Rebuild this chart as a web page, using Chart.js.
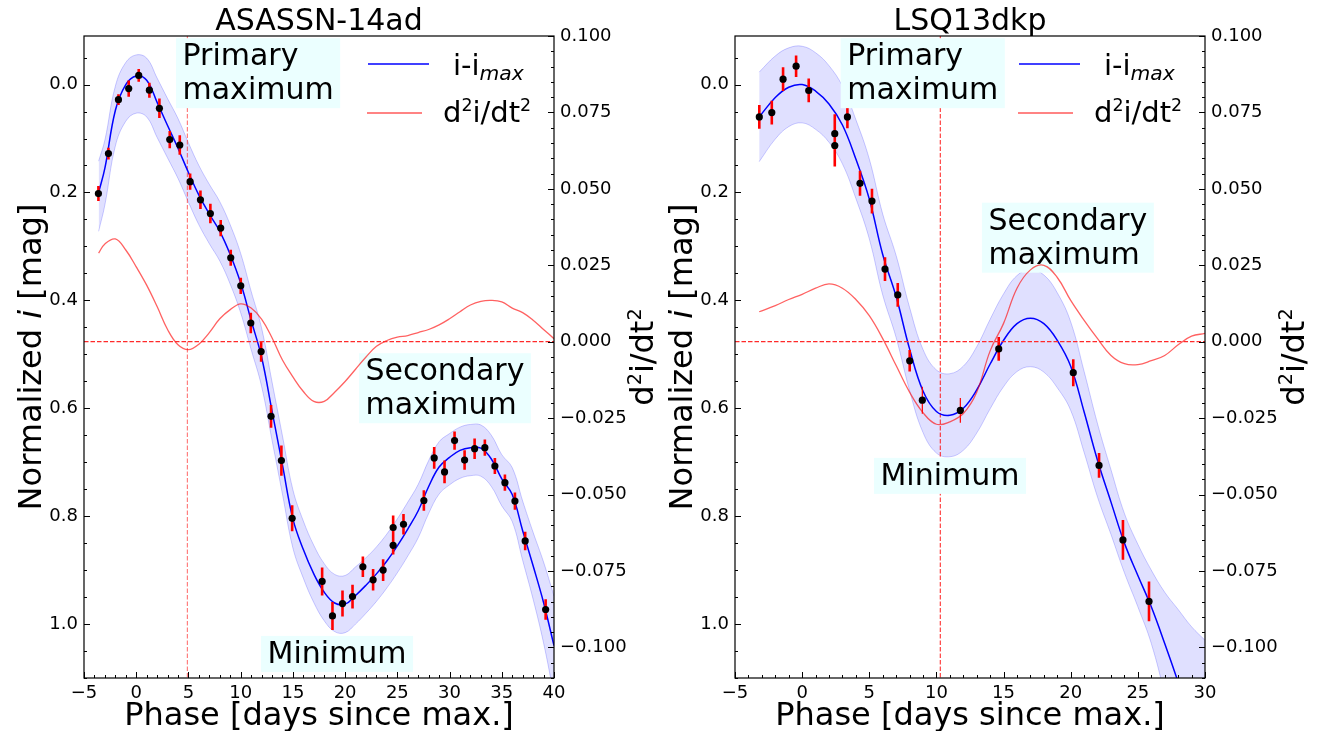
<!DOCTYPE html>
<html>
<head>
<meta charset="utf-8">
<script src="https://cdn.jsdelivr.net/npm/chart.js@4.4.1/dist/chart.umd.min.js"></script>
<style>
  body { margin: 0; background: #fff; width: 1317px; height: 731px; overflow: hidden; position: relative; }
  canvas { position: absolute; top: 0; }
</style>
</head>
<body>
<canvas id="left" width="660" height="731" style="left:0"></canvas>
<canvas id="right" width="657" height="731" style="left:660px"></canvas>
<script>
// ---- ASASSN-14ad ----
const leftPhase = [-3.6, -3, -2, -1, 0, 1, 2, 3, 4, 5, 6, 7, 8, 9, 10, 11, 12, 13, 14, 15, 16, 17, 18, 19, 20,
    21, 22, 23, 24, 25, 26, 27, 28, 29, 30, 31, 32, 33, 34, 35, 36, 37, 38, 39, 40];
const leftFit = [0.200, 0.155, 0.048, 0.000, -0.016, -0.008, 0.033, 0.076, 0.118, 0.163, 0.205, 0.240, 0.272, 0.315,
    0.368, 0.437, 0.505, 0.605, 0.705, 0.805, 0.862, 0.907, 0.941, 0.961, 0.963, 0.947, 0.928, 0.907, 0.883, 0.855,
    0.824, 0.790, 0.745, 0.709, 0.691, 0.678, 0.673, 0.674, 0.694, 0.731, 0.760, 0.827, 0.892, 0.960, 1.040];
// band half-widths above (brighter) and below (fainter) the fit
const leftSigUp = [0.058, 0.052, 0.045, 0.041, 0.039, 0.041, 0.045, 0.050, 0.055, 0.055, 0.055, 0.055, 0.055, 0.055,
    0.055, 0.054, 0.054, 0.054, 0.054, 0.054, 0.053, 0.053, 0.053, 0.053, 0.053, 0.053, 0.051, 0.050, 0.050, 0.050,
    0.050, 0.049, 0.048, 0.047, 0.044, 0.043, 0.043, 0.043, 0.044, 0.045, 0.050, 0.055, 0.062, 0.075, 0.092];
const leftSigDown = [0.072, 0.068, 0.066, 0.068, 0.069, 0.068, 0.065, 0.060, 0.056, 0.055, 0.055, 0.055, 0.055, 0.055,
    0.055, 0.054, 0.054, 0.054, 0.054, 0.054, 0.053, 0.053, 0.053, 0.053, 0.053, 0.053, 0.052, 0.051, 0.050, 0.050,
    0.050, 0.050, 0.050, 0.050, 0.051, 0.052, 0.052, 0.052, 0.051, 0.050, 0.050, 0.055, 0.062, 0.075, 0.092];
const leftD2 = [0.0290, 0.0320, 0.0336, 0.0300, 0.0245, 0.0185, 0.0115, 0.0040, -0.0010, -0.0026, -0.0008, 0.0030,
    0.0075, 0.0105, 0.0124, 0.0110, 0.0074, 0.0013, -0.0060, -0.0115, -0.0163, -0.0195, -0.0195, -0.0165, -0.0130,
    -0.0090, -0.0050, -0.0015, 0.0004, 0.0015, 0.0020, 0.0030, 0.0040, 0.0055, 0.0075, 0.0098, 0.0120, 0.0132,
    0.0135, 0.0130, 0.0110, 0.0095, 0.0070, 0.0040, 0.0010];
const leftObsPhase = [-3.62, -2.66, -1.70, -0.72, 0.24, 1.26, 2.22, 3.21, 4.17, 5.16, 6.15, 7.10, 8.09, 9.05, 10.01,
    10.97, 11.96, 12.91, 13.90, 14.93, 17.80, 18.79, 19.75, 20.71, 21.70, 22.68, 23.64, 24.60, 24.60, 25.59, 27.54,
    28.53, 29.52, 30.48, 31.44, 32.40, 33.38, 34.34, 35.30, 36.26, 37.24, 39.20];
const leftObsMag = [0.202, 0.128, 0.028, 0.0075, -0.017, 0.0105, 0.044, 0.102, 0.112, 0.180, 0.2136, 0.239, 0.266,
    0.321, 0.373, 0.442, 0.495, 0.615, 0.697, 0.804, 0.921, 0.985, 0.962, 0.949, 0.894, 0.918, 0.900, 0.821, 0.854,
    0.815, 0.771, 0.692, 0.718, 0.660, 0.696, 0.675, 0.673, 0.707, 0.738, 0.772, 0.846, 0.973];
const leftObsErr = [0.014, 0.011, 0.010, 0.015, 0.012, 0.014, 0.018, 0.016, 0.018, 0.015, 0.017, 0.018, 0.015, 0.015,
    0.015, 0.019, 0.019, 0.021, 0.028, 0.024, 0.026, 0.026, 0.024, 0.022, 0.019, 0.020, 0.020, 0.022, 0.017, 0.019,
    0.019, 0.020, 0.021, 0.017, 0.018, 0.019, 0.015, 0.015, 0.015, 0.016, 0.017, 0.019];
const leftMaxPhase = 4.9;

// ---- LSQ13dkp ----
const rightPhase = [-3.2, -2, -1, 0, 1, 2, 3, 4, 5, 6, 7, 8, 9, 10, 11, 12, 13, 14, 15, 16, 17, 18, 19, 20, 21, 22,
    23, 24, 25, 26, 27, 28, 29, 30];
const rightFit = [0.060, 0.024, 0.005, 0.000, 0.012, 0.036, 0.075, 0.138, 0.212, 0.315, 0.393, 0.490, 0.568, 0.606,
    0.613, 0.600, 0.566, 0.518, 0.474, 0.443, 0.433, 0.443, 0.474, 0.522, 0.607, 0.697, 0.774, 0.850, 0.910, 0.968,
    1.036, 1.108, 1.190, 1.270];
const rightSigma = [0.083, 0.077, 0.073, 0.071, 0.071, 0.071, 0.072, 0.073, 0.074, 0.075, 0.076, 0.077, 0.077, 0.077,
    0.077, 0.078, 0.080, 0.083, 0.086, 0.089, 0.090, 0.090, 0.088, 0.082, 0.075, 0.068, 0.060, 0.055, 0.058, 0.068,
    0.095, 0.135, 0.185, 0.240];
const rightD2 = [0.0098, 0.0118, 0.0138, 0.0155, 0.0175, 0.0189, 0.0175, 0.0138, 0.0085, 0.0010, -0.0078, -0.0165,
    -0.0232, -0.0270, -0.0262, -0.0235, -0.0165, -0.0030, 0.0060, 0.0175, 0.0235, 0.0250, 0.0210, 0.0135, 0.0070,
    0.0010, -0.0045, -0.0072, -0.0075, -0.0062, -0.0045, -0.0010, 0.0018, 0.0027];
const rightObsPhase = [-3.19, -2.26, -1.42, -0.45, 0.49, 2.43, 2.43, 3.37, 4.31, 5.20, 6.17, 7.12, 8.01, 14.64, 20.19,
    22.11, 23.89, 25.83];
const rightObsMag = [0.060, 0.052, -0.010, -0.034, 0.011, 0.091, 0.113, 0.060, 0.183, 0.216, 0.342, 0.390, 0.512,
    0.490, 0.534, 0.706, 0.844, 0.958];
const rightObsErr = [0.022, 0.022, 0.022, 0.020, 0.022, 0.036, 0.039, 0.021, 0.023, 0.023, 0.022, 0.022, 0.020, 0.022,
    0.025, 0.023, 0.037, 0.037];
const rightThinPhase = [8.95, 11.78];
const rightThinMag = [0.585, 0.604];
const rightThinErr = [0.025, 0.023];
const rightMinPhase = 10.29;

// ticks
const leftXTicks = [-5, 0, 5, 10, 15, 20, 25, 30, 35, 40];
const rightXTicks = [-5, 0, 5, 10, 15, 20, 25, 30];
const magTicks = [0.0, 0.2, 0.4, 0.6, 0.8, 1.0];
const d2Ticks = [0.1, 0.075, 0.05, 0.025, 0, -0.025, -0.05, -0.075, -0.1];

const FONT = '"DejaVu Sans", sans-serif';
Chart.defaults.font.family = FONT;
Chart.defaults.color = '#000';

const minus = (v, d) => (v < 0 ? '\u2212' : '') + Math.abs(v).toFixed(d);

function richWidth(ctx, parts, size) {
    let w = 0;
    parts.forEach(p => {
        const s = p.sub ? size * 0.7 : p.sup ? size * 0.6 : size;
        ctx.font = (p.it ? 'italic ' : '') + s + 'px ' + FONT;
        w += ctx.measureText(p.t).width;
    });
    return w;
}

function drawRich(ctx, parts, x, y, size) {
    let cx = x;
    parts.forEach(p => {
        const s = p.sub ? size * 0.7 : p.sup ? size * 0.6 : size;
        const dy = p.sub ? size * 0.17 : p.sup ? -size * 0.37 : 0;
        ctx.font = (p.it ? 'italic ' : '') + s + 'px ' + FONT;
        ctx.fillText(p.t, cx, y + dy);
        cx += ctx.measureText(p.t).width;
    });
}

function drawVertical(ctx, parts, cx, cy, size) {
    ctx.save();
    ctx.translate(cx, cy);
    ctx.rotate(-Math.PI / 2);
    const w = richWidth(ctx, parts, size);
    drawRich(ctx, parts, -w / 2, size * 0.36, size);
    ctx.restore();
}

// returns [value, isMajor] pairs inside the range
function marks(min, max, step, majors) {
    const out = majors.filter(v => v >= min - 1e-9 && v <= max + 1e-9).map(v => [v, true]);
    for (let k = Math.ceil(min / step - 1e-9); k * step <= max + 1e-9; k++) {
        const v = k * step;
        if (!majors.some(m => Math.abs(m - v) < step / 10)) out.push([v, false]);
    }
    return out;
}

const yLabel = [{ t: 'Normalized ' }, { t: 'i', it: true }, { t: ' [mag]' }];
const d2Label = [{ t: 'd' }, { t: '2', sup: true }, { t: 'i/dt' }, { t: '2', sup: true }];
const fitLabel = [{ t: 'i-i' }, { t: 'max', it: true, sub: true }];

const decor = {
    left: {
        title: 'ASASSN-14ad', xTicks: leftXTicks,
        notes: [
            { lines: ['Primary', 'maximum'], x: 3.81, y: -0.086 },
            { lines: ['Secondary', 'maximum'], x: 21.33, y: 0.498 },
            { lines: ['Minimum'], x: 11.95, y: 1.022 }
        ]
    },
    right: {
        title: 'LSQ13dkp', xTicks: rightXTicks,
        notes: [
            { lines: ['Primary', 'maximum'], x: 2.87, y: -0.086 },
            { lines: ['Secondary', 'maximum'], x: 13.39, y: 0.219 },
            { lines: ['Minimum'], x: 5.35, y: 0.692 }
        ]
    }
};

function drawNotes(chart) {
    const d = decor[chart.canvas.id];
    const ctx = chart.ctx, sx = chart.scales.x, sy = chart.scales.y;
    ctx.save();
    ctx.font = '30px ' + FONT;
    d.notes.forEach(n => {
        const px = sx.getPixelForValue(n.x), py = sy.getPixelForValue(n.y);
        const w = Math.max(...n.lines.map(l => ctx.measureText(l).width));
        const h = 26 + 34 * (n.lines.length - 1) + 10;
        ctx.fillStyle = '#ebffff';
        ctx.fillRect(px, py, w + 13, h);
        ctx.fillStyle = '#000';
        ctx.textAlign = 'left';
        n.lines.forEach((l, i) => ctx.fillText(l, px + 6.5, py + 27 + i * 34));
    });
    ctx.restore();
}

const decorPlugin = {
    id: 'decor',
    beforeDatasetDraw(chart, args) {
        const ds = chart.data.datasets[args.index];
        const ctx = chart.ctx, a = chart.chartArea, sy = chart.scales.y;
        if (ds.errors) {
            ctx.save();
            ctx.beginPath();
            ctx.rect(a.left, a.top, a.right - a.left, a.bottom - a.top);
            ctx.clip();
            ctx.strokeStyle = '#ff0000';
            ctx.lineWidth = ds.errWidth;
            ctx.beginPath();
            args.meta.data.forEach((pt, i) => {
                const v = ds.data[i].y, e = ds.errors[i];
                ctx.moveTo(pt.x, sy.getPixelForValue(v - e));
                ctx.lineTo(pt.x, sy.getPixelForValue(v + e));
            });
            ctx.stroke();
            ctx.restore();
        }
        if (ds.role === 'd2') drawNotes(chart);
    },
    afterDraw(chart) {
        const d = decor[chart.canvas.id];
        const ctx = chart.ctx, a = chart.chartArea;
        const sx = chart.scales.x, sy = chart.scales.y, s2 = chart.scales.y2;
        const line = (x1, y1, x2, y2) => { ctx.beginPath(); ctx.moveTo(x1, y1); ctx.lineTo(x2, y2); ctx.stroke(); };
        ctx.save();
        ctx.strokeStyle = '#000';
        ctx.lineWidth = 1;
        marks(sx.min, sx.max, 1, d.xTicks).forEach(([v, big]) => {
            const p = Math.round(sx.getPixelForValue(v)) + 0.5;
            line(p, a.bottom, p, a.bottom - (big ? 6 : 3));
        });
        marks(sy.min, sy.max, 0.05, magTicks).forEach(([v, big]) => {
            const p = Math.round(sy.getPixelForValue(v)) + 0.5;
            line(a.left, p, a.left + (big ? 6 : 3), p);
        });
        marks(s2.min, s2.max, 0.005, d2Ticks).forEach(([v, big]) => {
            const p = Math.round(s2.getPixelForValue(v)) + 0.5;
            line(a.right, p, a.right - (big ? 6 : 3), p);
        });
        ctx.lineWidth = 1.2;
        ctx.strokeRect(a.left, a.top, a.right - a.left, a.bottom - a.top);

        const cx = (a.left + a.right) / 2, cy = (a.top + a.bottom) / 2;
        ctx.fillStyle = '#000';
        ctx.textAlign = 'center';
        ctx.font = '30px ' + FONT;
        ctx.fillText(d.title, cx, 30);
        ctx.font = '32px ' + FONT;
        ctx.fillText('Phase [days since max.]', cx, 725);
        ctx.textAlign = 'left';
        drawVertical(ctx, yLabel, a.left - 55, cy, 32);
        drawVertical(ctx, d2Label, a.right + 87, cy, 32);

        // legend
        ctx.lineWidth = 1.6;
        ctx.strokeStyle = '#0000ff';
        line(a.right - 186, 64, a.right - 125, 64);
        ctx.strokeStyle = 'rgba(255,0,0,0.65)';
        line(a.right - 187, 113, a.right - 132, 113);
        drawRich(ctx, fitLabel, a.right - 101, 75, 29);
        drawRich(ctx, d2Label, a.right - 111, 121.7, 29);
        ctx.restore();
    }
};

function buildChart(id, s) {
    const pts = (xs, ys) => xs.map((x, i) => ({ x: x, y: ys[i] }));
    const hi = s.fit.map((v, i) => v - s.up[i]);
    const lo = s.fit.map((v, i) => v + s.down[i]);
    const obs = s.obs.map(o => ({
        role: 'obs', data: pts(o.phase, o.mag), errors: o.err, errWidth: o.width, yAxisID: 'y',
        showLine: false, pointRadius: 3.6, pointBackgroundColor: '#000', pointBorderWidth: 0, order: 2
    }));
    const datasets = [
        { role: 'zero', data: [{ x: s.xMin, y: 0 }, { x: s.xMax, y: 0 }], yAxisID: 'y2',
          borderColor: '#ff2a2a', borderWidth: 1.2, borderDash: [4.5, 2], order: 0 },
        { role: 'd2', data: pts(s.phase, s.d2), yAxisID: 'y2',
          borderColor: 'rgba(255,0,0,0.62)', borderWidth: 1.3, tension: 0.4, order: 1 },
        ...obs,
        { role: 'fit', data: pts(s.phase, s.fit), yAxisID: 'y',
          borderColor: '#0000ff', borderWidth: 1.5, tension: 0.4, order: 3 },
        { role: 'vline', data: [{ x: s.mark, y: -0.09 }, { x: s.mark, y: 1.1 }], yAxisID: 'y',
          borderColor: s.markColor, borderWidth: 1.2, borderDash: [4.5, 2], order: 4 },
        { role: 'bandHi', data: pts(s.phase, hi), yAxisID: 'y', fill: '+1',
          backgroundColor: 'rgba(0,0,255,0.12)', borderColor: 'rgba(0,0,255,0.2)', borderWidth: 1, tension: 0.4, order: 5 },
        { role: 'bandLo', data: pts(s.phase, lo), yAxisID: 'y', fill: false,
          borderColor: 'rgba(0,0,255,0.2)', borderWidth: 1, tension: 0.4, order: 6 }
    ];
    const tickFont = { size: 18 };
    return new Chart(document.getElementById(id), {
        type: 'line',
        data: { datasets: datasets },
        options: {
            responsive: false, animation: false, events: [], devicePixelRatio: 1,
            layout: { padding: { top: 36, left: 0, right: 0, bottom: 0 } },
            elements: { point: { radius: 0 }, line: { fill: false } },
            plugins: { legend: { display: false }, tooltip: { enabled: false } },
            scales: {
                x: {
                    type: 'linear', min: s.xMin, max: s.xMax,
                    grid: { display: false, drawTicks: false }, border: { display: false },
                    ticks: { autoSkip: false, maxRotation: 0, padding: 5, font: tickFont, color: '#000',
                             callback: v => minus(v, 0) },
                    afterBuildTicks: ax => { ax.ticks = s.xTicks.map(v => ({ value: v })); },
                    afterFit: ax => { ax.height = 53; }
                },
                y: {
                    type: 'linear', position: 'left', reverse: true, min: -0.09, max: 1.1,
                    grid: { display: false, drawTicks: false }, border: { display: false },
                    ticks: { autoSkip: false, padding: 6, font: tickFont, color: '#000', callback: v => v.toFixed(1) },
                    afterBuildTicks: ax => { ax.ticks = magTicks.map(v => ({ value: v })); },
                    afterFit: ax => { ax.width = s.leftW; }
                },
                y2: {
                    type: 'linear', position: 'right', min: -0.11, max: 0.1,
                    grid: { display: false, drawTicks: false }, border: { display: false },
                    ticks: { autoSkip: false, padding: 6, font: tickFont, color: '#000', callback: v => minus(v, 3) },
                    afterBuildTicks: ax => { ax.ticks = d2Ticks.map(v => ({ value: v })); },
                    afterFit: ax => { ax.width = s.rightW; }
                }
            }
        },
        plugins: [decorPlugin]
    });
}

buildChart('left', {
    phase: leftPhase, fit: leftFit, up: leftSigUp, down: leftSigDown, d2: leftD2,
    obs: [{ phase: leftObsPhase, mag: leftObsMag, err: leftObsErr, width: 2.6 }],
    xMin: -5, xMax: 40, xTicks: leftXTicks, mark: leftMaxPhase, markColor: 'rgba(255,0,0,0.5)',
    leftW: 84, rightW: 106
});

buildChart('right', {
    phase: rightPhase, fit: rightFit, up: rightSigma, down: rightSigma, d2: rightD2,
    obs: [
        { phase: rightObsPhase, mag: rightObsMag, err: rightObsErr, width: 2.6 },
        { phase: rightThinPhase, mag: rightThinMag, err: rightThinErr, width: 1.2 }
    ],
    xMin: -5, xMax: 30, xTicks: rightXTicks, mark: rightMinPhase, markColor: 'rgba(255,0,0,0.75)',
    leftW: 75, rightW: 112
});
</script>
</body>
</html>
